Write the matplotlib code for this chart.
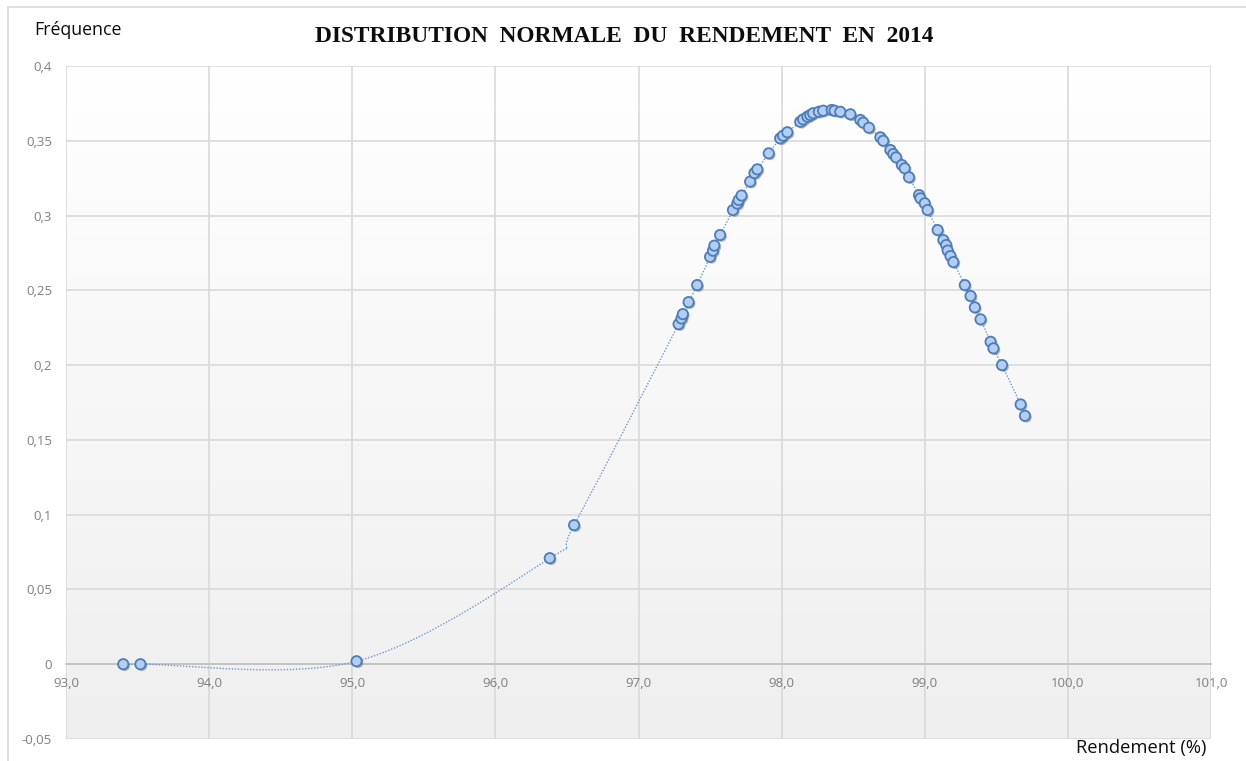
import numpy as np
import matplotlib
matplotlib.use("Agg")
import matplotlib.pyplot as plt
from matplotlib.patches import Rectangle
from matplotlib.ticker import FuncFormatter, MultipleLocator
import matplotlib.patheffects as pe

# ---- data ----
rendement = [93.40, 93.52, 95.03, 96.38, 96.55, 97.28, 97.30, 97.31, 97.35, 97.41,
             97.50, 97.52, 97.53, 97.57, 97.66, 97.69, 97.70, 97.72, 97.78, 97.81,
             97.83, 97.91, 97.99, 98.01, 98.04, 98.13, 98.15, 98.18, 98.20, 98.22,
             98.26, 98.29, 98.35, 98.37, 98.41, 98.48, 98.55, 98.57, 98.61, 98.69,
             98.71, 98.76, 98.78, 98.80, 98.84, 98.86, 98.89, 98.96, 98.97, 99.00,
             99.02, 99.09, 99.13, 99.15, 99.16, 99.18, 99.20, 99.28, 99.32, 99.35,
             99.39, 99.46, 99.48, 99.54, 99.67, 99.70]
frequence = [0.0000, 0.0000, 0.0020, 0.0709, 0.0930, 0.2274, 0.2312, 0.2341, 0.2421, 0.2535,
             0.2724, 0.2765, 0.2799, 0.2870, 0.3037, 0.3080, 0.3104, 0.3134, 0.3227, 0.3284,
             0.3309, 0.3416, 0.3516, 0.3534, 0.3557, 0.3627, 0.3643, 0.3661, 0.3672, 0.3684,
             0.3694, 0.3701, 0.3706, 0.3701, 0.3694, 0.3677, 0.3639, 0.3621, 0.3587, 0.3523,
             0.3500, 0.3438, 0.3411, 0.3389, 0.3338, 0.3316, 0.3256, 0.3137, 0.3115, 0.3082,
             0.3037, 0.2903, 0.2836, 0.2803, 0.2766, 0.2729, 0.2689, 0.2535, 0.2462, 0.2386,
             0.2306, 0.2156, 0.2112, 0.2000, 0.1737, 0.1661]

title = "DISTRIBUTION  NORMALE  DU  RENDEMENT  EN  2014"
ylabel = "Fréquence"
xlabel = "Rendement (%)"

def fmt(v, pos=None):
    if abs(v) < 1e-9:
        return "0"
    return f"{v:g}".replace(".", ",")

def fmt_x(v, pos=None):
    return f"{v:.1f}".replace(".", ",")

# Excel-like smoothed line (Catmull-Rom Bezier through the points)
def smooth(xs, ys, n=30):
    P = np.column_stack([xs, ys]).astype(float)
    Pe = np.vstack([P[0], P, P[-1]])
    out = []
    t = np.linspace(0, 1, n)[:, None]
    for i in range(len(P) - 1):
        p0, p1, p2, p3 = Pe[i], Pe[i + 1], Pe[i + 2], Pe[i + 3]
        c1 = p1 + (p2 - p0) / 6.0
        c2 = p2 - (p3 - p1) / 6.0
        seg = ((1 - t) ** 3) * p1 + 3 * ((1 - t) ** 2) * t * c1 + 3 * (1 - t) * t ** 2 * c2 + t ** 3 * p2
        out.append(seg if i == 0 else seg[1:])
    S = np.vstack(out)
    return S[:, 0], S[:, 1]

W, H = 1246, 761
fig = plt.figure(figsize=(W / 100, H / 100), dpi=100)
fig.patch.set_facecolor("white")

# outer chart border
fig.add_artist(Rectangle((8 / W, -0.05), 1.2, 1 - 7 / H + 0.05, transform=fig.transFigure,
                         fill=False, edgecolor="#d9d9d9", linewidth=1.2))

L, R, T, B = 66, 1211, 66, 739
ax = fig.add_axes([L / W, 1 - B / H, (R - L) / W, (B - T) / H])
ax.set_xlim(93, 101)
ax.set_ylim(-0.05, 0.4)

# gradient background
grad = np.linspace(1.0, 0.0, 256)[:, None]
ax.imshow(grad, extent=[0, 1, 0, 1], transform=ax.transAxes, aspect="auto",
          cmap=matplotlib.colors.LinearSegmentedColormap.from_list("g", ["#efefef", "#ffffff"]),
          zorder=0, interpolation="bicubic")
ax.set_facecolor("none")

ax.xaxis.set_major_locator(MultipleLocator(1))
ax.yaxis.set_major_locator(MultipleLocator(0.05))
ax.xaxis.set_major_formatter(FuncFormatter(fmt_x))
ax.yaxis.set_major_formatter(FuncFormatter(fmt))
ax.grid(True, color="#d9d9d9", linewidth=1.2, zorder=1)
ax.set_axisbelow(True)

for s in ["top", "right", "left"]:
    ax.spines[s].set_visible(False)
ax.spines["bottom"].set_position(("data", 0))
ax.spines["bottom"].set_color("#bfbfbf")
ax.spines["bottom"].set_linewidth(1.2)
ax.spines["bottom"].set_zorder(1.5)

ax.tick_params(axis="both", length=0, labelsize=9.5, labelcolor="#7f7f7f")
ax.tick_params(axis="x", pad=9.5)
ax.tick_params(axis="y", pad=10)
for lab in ax.get_xticklabels() + ax.get_yticklabels():
    lab.set_fontfamily("Open Sans")

sx, sy = smooth(rendement, frequence)
ax.plot(sx, sy, color="#6f97d0", linewidth=1.0, linestyle=(0, (1, 1.2)), zorder=3)
ax.scatter(rendement, frequence, s=55, facecolor="#b4cdf1", edgecolor="#4a7ebb",
           linewidth=1.3, zorder=4,
           path_effects=[pe.SimplePatchShadow(offset=(1.2, -1.2), alpha=0.35), pe.Normal()])

fig.text(624 / W, 1 - 36 / H, title, ha="center", va="center", fontsize=16.8,
         fontweight="bold", family="Liberation Serif", color="#0d0d0d")
fig.text(34 / W, 1 - 30 / H, ylabel, ha="left", va="center", fontsize=12.8,
         family="Open Sans", color="#0d0d0d")
fig.text(1206 / W, 1 - 748 / H, xlabel, ha="right", va="center", fontsize=13.2,
         family="Open Sans", color="#0d0d0d")

fig.savefig("out.png", dpi=100)
